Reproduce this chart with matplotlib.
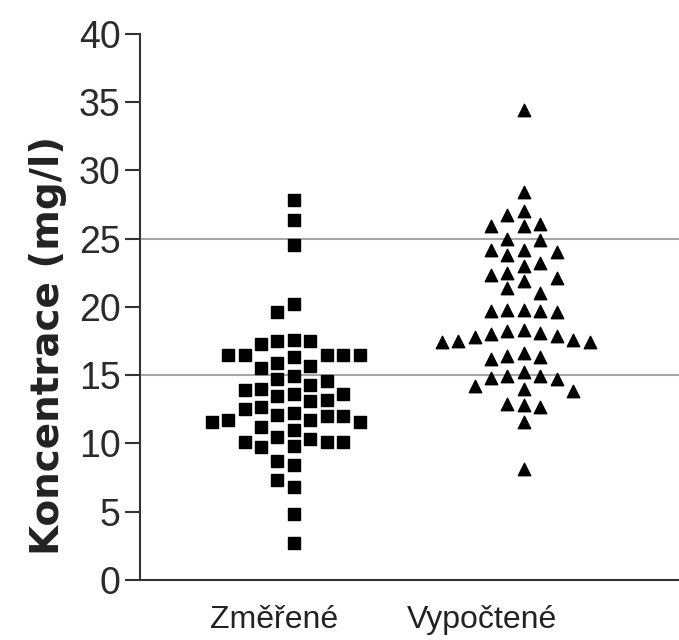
import matplotlib
matplotlib.use("Agg")
import matplotlib.pyplot as plt

# values (mg/l)
categories = ["Změřené", "Vypočtené"]
zmerene = [27.8, 26.4, 24.5, 20.2, 19.6, 17.6, 17.5, 17.3, 17.5,
           16.5, 16.5, 16.5, 16.3, 16.5, 16.5, 15.9, 15.5, 15.7,
           14.9, 14.6, 14.7, 14.0, 13.9, 14.3, 13.6, 13.5, 13.1, 13.2, 13.6,
           12.2, 12.5, 12.7, 12.0, 11.7, 11.6, 11.6, 11.7, 12.0, 12.1,
           11.2, 11.0, 10.5, 10.1, 10.1, 9.7, 9.8, 10.1, 10.3,
           8.7, 8.4, 6.8, 7.3, 4.8, 2.7]
vypoctene = [34.4, 28.4, 27.0, 26.7, 25.9, 25.9, 26.1, 25.0, 24.9,
             24.2, 24.0, 23.8, 24.2, 23.0, 23.2, 22.1, 22.3, 22.5, 21.9,
             21.4, 21.0, 19.8, 19.7, 19.6, 19.7, 19.8,
             18.3, 18.1, 18.0, 17.4, 17.6, 17.5, 17.8, 17.9, 18.2, 17.4,
             16.4, 16.2, 16.3, 16.6, 15.2, 14.9, 14.7, 14.2, 14.8, 14.9,
             13.8, 14.0, 12.7, 12.8, 12.9, 11.6, 8.1]
y_ticks = [0, 5, 10, 15, 20, 25, 30, 35, 40]
ref_lines = [15, 25]


def swarm(values, center, dx, min_dy):
    # simple greedy beeswarm on fixed horizontal slots
    slots = {}
    xs = [0.0] * len(values)
    order = sorted(range(len(values)), key=lambda i: -values[i])
    for i in order:
        v = values[i]
        k = 0
        while True:
            cands = [0] if k == 0 else [-k, k]
            done = False
            for s in cands:
                if all(abs(v - w) >= min_dy for w in slots.get(s, [])):
                    slots.setdefault(s, []).append(v)
                    xs[i] = center + s * dx
                    done = True
                    break
            if done:
                break
            k += 1
    return xs


fig = plt.figure(figsize=(6.79, 6.40), dpi=100)
ax = fig.add_axes([0.206, 0.094, 0.794, 0.853])

for y in ref_lines:
    ax.axhline(y, color="#a6a6a6", lw=1.5, zorder=1)

x1 = swarm(zmerene, 0, 0.0717, 1.15)
x2 = swarm(vypoctene, 1, 0.0717, 1.1)
ax.scatter(x1, zmerene, marker="s", s=80, color="black", zorder=3)
ax.scatter(x2, vypoctene, marker="^", s=80, color="black", zorder=3)

ax.set_xlim(-0.67, 1.674)
ax.set_ylim(0, 40)
ax.set_yticks(y_ticks)
ax.set_xticks([-0.087, 0.817])
ax.set_xticklabels(categories, fontsize=23, family="Liberation Sans", color="#222222")
ax.tick_params(axis="x", length=0, pad=18)
ax.tick_params(axis="y", length=11, width=1.5, color="#333333", labelsize=27, pad=3,
               labelcolor="#2b2b2b")
for lab in ax.get_yticklabels():
    lab.set_family("Liberation Sans")

for side in ["top", "right"]:
    ax.spines[side].set_visible(False)
for side in ["left", "bottom"]:
    ax.spines[side].set_linewidth(1.5)
    ax.spines[side].set_color("#333333")

ax.set_ylabel("Koncentrace (mg/l)", fontsize=28, fontweight="bold",
              family="DejaVu Sans", color="#222222")
ax.yaxis.set_label_coords(-0.135, 0.43)

fig.savefig("out.png", dpi=100)
